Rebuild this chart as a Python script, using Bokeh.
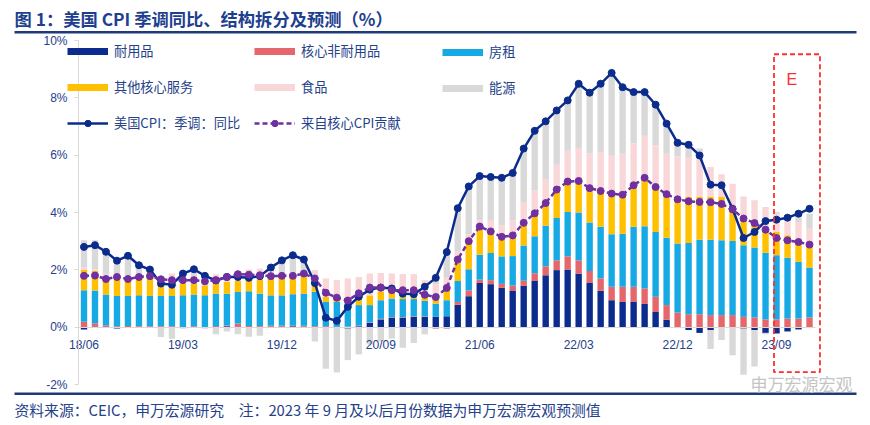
import numpy as np
import pandas as pd
from bokeh.plotting import figure
from bokeh.models import Range1d, FixedTicker, Label, Legend, LegendItem, BoxAnnotation
from bokeh.embed import file_html
from bokeh.resources import INLINE

# ---------------- data ----------------
months = [p.strftime("%y/%m") for p in pd.period_range("2018-06", "2023-12", freq="M")]
tick_labels = ["18/06", "19/03", "19/12", "20/09", "21/06", "22/03", "22/12", "23/09"]
forecast_start = "23/09"

durable = [
    -0.08, 0.02, 0.02, -0.05, 0.01, 0.01, 0.01,
    0.01, 0.01, 0.01, 0.01, 0.01, 0.02, 0.03, 0.02, 0.01, 0.01, 0.01, 0.02,
    0.03, 0.02, 0.02, 0.02, 0.02, -0.05, 0.03, 0.15, 0.27, 0.33, 0.33, 0.36,
    0.36, 0.36, 0.38, 0.78, 1.08, 1.54, 1.50, 1.37, 1.28, 1.44, 1.61, 1.81,
    1.99, 2.01, 1.87, 1.54, 1.27, 0.94, 0.88, 0.88, 0.81, 0.53, 0.26, 0.00,
    -0.10, -0.20, -0.10, 0.00, 0.00, -0.05, -0.10, -0.20, -0.22, -0.15, -0.08, -0.02,
]
nondurable = [
    0.19, 0.12, 0.05, 0.03, 0.03, 0.02, 0.02,
    0.02, 0.02, -0.04, 0.02, -0.04, 0.02, 0.03, 0.11, 0.03, 0.03, 0.04, 0.03,
    0.02, 0.03, 0.02, 0.02, -0.03, 0.02, 0.02, 0.02, 0.02, 0.02, 0.02, 0.02,
    0.02, -0.05, -0.05, 0.10, 0.20, 0.12, 0.14, 0.14, 0.17, 0.18, 0.27, 0.31,
    0.34, 0.46, 0.46, 0.42, 0.43, 0.47, 0.53, 0.53, 0.54, 0.53, 0.51, 0.51,
    0.45, 0.45, 0.42, 0.42, 0.42, 0.36, 0.34, 0.27, 0.27, 0.30, 0.30, 0.34,
]
rent = [
    1.10, 1.14, 1.07, 1.06, 1.05, 1.08, 1.06,
    1.06, 1.06, 1.10, 1.11, 1.10, 1.13, 1.11, 1.10, 1.21, 1.13, 1.06, 1.06,
    1.10, 1.12, 1.19, 0.84, 0.86, 0.86, 0.72, 0.60, 0.65, 0.65, 0.63, 0.60,
    0.54, 0.46, 0.56, 0.73, 0.74, 0.87, 0.95, 0.96, 1.03, 1.23, 1.29, 1.42,
    1.48, 1.55, 1.67, 1.69, 1.80, 1.83, 1.85, 2.09, 2.17, 2.26, 2.35, 2.41,
    2.49, 2.60, 2.63, 2.61, 2.59, 2.50, 2.44, 2.33, 2.24, 2.12, 1.98, 1.74,
]
other_core = [
    0.70, 0.68, 0.61, 0.66, 0.61, 0.64, 0.66,
    0.37, 0.37, 0.41, 0.38, 0.35, 0.41, 0.41, 0.38, 0.36, 0.49, 0.67, 0.67,
    0.60, 0.64, 0.23, 0.18, 0.20, 0.12, 0.17, 0.34, 0.31, 0.29, 0.27, 0.31,
    0.23, 0.14, 0.35, 0.70, 0.92, 0.87, 0.67, 0.58, 0.62, 0.80, 0.79, 0.77,
    0.91, 1.06, 1.05, 1.13, 1.22, 1.34, 1.30, 1.36, 1.63, 1.54, 1.48, 1.58,
    1.60, 1.49, 1.49, 1.51, 1.16, 0.93, 0.89, 0.78, 0.81, 0.79, 0.77, 0.80,
]
food = [
    0.08, 0.06, 0.08, 0.08, 0.08, 0.12, 0.10,
    0.32, 0.41, 0.20, 0.18, 0.15, 0.27, 0.29, 0.35, 0.40, 0.38, 0.15, 0.15,
    0.15, 0.15, 0.53, 0.64, 0.56, 0.70, 0.81, 0.76, 0.64, 0.58, 0.60, 0.56,
    0.49, 0.54, 0.46, 0.32, 0.30, 0.33, 0.45, 0.50, 0.62, 0.72, 0.82, 0.86,
    0.95, 1.07, 1.20, 1.29, 1.38, 1.43, 1.49, 1.55, 1.53, 1.49, 1.45, 1.45,
    1.40, 1.30, 1.05, 0.79, 0.83, 0.77, 0.76, 0.81, 0.64, 0.58, 0.62, 0.55,
]
energy = [
    0.96, 1.01, 0.72, 0.45, 0.75, 0.25, 0.14,
    -0.34, -0.40, 0.15, 0.32, 0.18, -0.25, -0.15, -0.25, -0.33, -0.30, 0.18, 0.40,
    0.62, 0.40, -0.50, -1.45, -1.55, -1.10, -0.95, -0.60, -0.50, -0.40, -0.72, -0.55,
    -0.25, 0.20, 0.87, 1.52, 1.65, 1.55, 1.54, 1.65, 1.66, 1.86, 2.07, 2.01,
    1.89, 1.76, 2.24, 2.11, 2.39, 2.86, 2.32, 1.79, 1.52, 1.41, 1.05, 0.48,
    0.55, 0.39, -0.66, -0.45, -0.98, -1.61, -1.27, -0.05, 0.06, 0.11, 0.35, 0.53,
]
cpi_yoy = [
    2.80, 2.86, 2.63, 2.32, 2.49, 2.16, 2.01,
    1.52, 1.48, 1.87, 2.02, 1.79, 1.63, 1.75, 1.75, 1.72, 1.78, 2.08, 2.33,
    2.51, 2.36, 1.54, 0.33, 0.22, 0.71, 1.06, 1.31, 1.38, 1.35, 1.17, 1.15,
    1.41, 1.72, 2.62, 4.15, 4.91, 5.27, 5.24, 5.21, 5.38, 6.23, 6.85, 7.18,
    7.56, 7.91, 8.49, 8.18, 8.49, 8.87, 8.37, 8.20, 8.20, 7.76, 7.10, 6.43,
    6.36, 5.99, 4.97, 4.95, 4.13, 3.11, 3.32, 3.70, 3.75, 3.82, 3.96, 4.13,
]
core_contrib = [
    1.79, 1.80, 1.68, 1.75, 1.68, 1.75, 1.78,
    1.67, 1.64, 1.64, 1.64, 1.60, 1.64, 1.75, 1.85, 1.83, 1.81, 1.78, 1.79,
    1.79, 1.87, 1.70, 1.20, 1.03, 0.93, 1.18, 1.38, 1.38, 1.29, 1.29, 1.29,
    1.13, 1.05, 1.37, 2.36, 3.00, 3.51, 3.34, 3.15, 3.20, 3.64, 3.97, 4.33,
    4.80, 5.08, 5.10, 4.85, 4.75, 4.66, 4.62, 4.95, 5.21, 4.89, 4.64, 4.46,
    4.39, 4.37, 4.36, 4.30, 4.11, 3.79, 3.63, 3.40, 3.11, 3.03, 2.97, 2.88,
]

names = ["耐用品", "核心非耐用品", "房租", "其他核心服务", "食品", "能源"]
colors = ["#0B2C8C", "#E5676B", "#17A9E4", "#FFC000", "#F9D6D8", "#D9D9D9"]
line_names = ["美国CPI：季调：同比", "来自核心CPI贡献"]
y_ticks = [-2, 0, 2, 4, 6, 8, 10]
title_text = "图 1：美国 CPI 季调同比、结构拆分及预测（%）"
source_text = "资料来源：CEIC，申万宏源研究\u3000注：2023 年 9 月及以后月份数据为申万宏源宏观预测值"

NAVY = "#0B2C8C"
PURPLE = "#7030A0"
TEXT = "#24418A"
TITLE_C = "#1E3F8E"
RULE_C = "#1F3A7A"
RED = "#FF2E2E"
FONT = "Noto Sans CJK SC"
NUMFONT = "Liberation Sans"

# ---------------- geometry (one canvas, frame = whole canvas) ----------------
W, H = 870, 425
n = len(months)
AX_LEFT, AX_TOP, AX_BOTTOM = 78, 40, 384      # px of the y axis line, 10% and -2%
PLOT_W = 742                                   # px for x from -0.5 to n
ppx = PLOT_W / (n + 0.5)
ppy = (AX_BOTTOM - AX_TOP) / (y_ticks[-1] - y_ticks[0])
x0 = -0.5 - AX_LEFT / ppx
y1 = y_ticks[-1] + AX_TOP / ppy

p = figure(width=W, height=H, x_range=Range1d(x0, x0 + W / ppx),
           y_range=Range1d(y1 - H / ppy, y1), toolbar_location=None,
           output_backend="svg", min_border=0, outline_line_color=None, title=None)
p.grid.visible = False

x = np.arange(n)
pos = np.zeros(n)
neg = np.zeros(n)
for vals, c in zip([durable, nondurable, rent, other_core, food, energy], colors):
    v = np.asarray(vals, dtype=float)
    bottom = np.where(v >= 0, pos, neg)
    topv = bottom + v
    pos = np.where(v >= 0, topv, pos)
    neg = np.where(v < 0, topv, neg)
    p.vbar(x=x, bottom=bottom, top=topv, width=0.58, fill_color=c, line_color=None)

cpi_l = p.line(x, cpi_yoy, line_color=NAVY, line_width=2.5)
cpi_s = p.scatter(x, cpi_yoy, size=7, marker="circle", fill_color=NAVY, line_color=NAVY)
core_l = p.line(x, core_contrib, line_color=PURPLE, line_width=2.5, line_dash="5 3")
core_s = p.scatter(x, core_contrib, size=7, marker="circle", fill_color=PURPLE, line_color=PURPLE)

# axes drawn inside the canvas at fixed positions
p.xaxis.fixed_location = 0
p.xaxis.bounds = (-0.5, n - 0.5)
p.xaxis.ticker = FixedTicker(ticks=[months.index(t) for t in tick_labels])
p.xaxis.major_label_overrides = {months.index(t): t for t in tick_labels}
p.xaxis.axis_line_color = "#D9D9D9"
p.xaxis.major_tick_line_color = None
p.xaxis.minor_tick_line_color = None
p.xaxis.major_label_standoff = 5
p.yaxis.fixed_location = -0.5
p.yaxis.bounds = (y_ticks[0], y_ticks[-1])
p.yaxis.ticker = FixedTicker(ticks=y_ticks)
p.yaxis.major_label_overrides = {v: f"{v}%" for v in y_ticks}
p.yaxis.axis_line_color = "#D9D9D9"
p.yaxis.major_tick_line_color = "#D9D9D9"
p.yaxis.major_tick_out = 4
p.yaxis.major_tick_in = 0
p.yaxis.minor_tick_line_color = None
p.yaxis.major_label_standoff = 7
for ax in (p.xaxis, p.yaxis):
    ax.major_label_text_font = NUMFONT
    ax.major_label_text_font_size = "12px"
    ax.major_label_text_color = TEXT

# legend (bar swatches via thick-line proxies holding one empty point)
proxies = [p.line([0], [np.nan], line_width=7, line_color=c) for c in colors]

def make_legend(items, loc):
    lg = Legend(items=items, location=loc, orientation="vertical", glyph_width=41,
                glyph_height=16, label_height=16, spacing=17, padding=0, margin=0,
                label_standoff=6, border_line_color=None, background_fill_alpha=0,
                label_text_font=FONT, label_text_font_size="13.2px", label_text_color=TEXT)
    p.add_layout(lg)

make_legend([LegendItem(label=names[0], renderers=[proxies[0]]),
             LegendItem(label=names[3], renderers=[proxies[3]]),
             LegendItem(label=line_names[0], renderers=[cpi_l, cpi_s])], (67, 293))
make_legend([LegendItem(label=names[1], renderers=[proxies[1]]),
             LegendItem(label=names[4], renderers=[proxies[4]]),
             LegendItem(label=line_names[1], renderers=[core_l, core_s])], (254, 293))
make_legend([LegendItem(label=names[2], renderers=[proxies[2]]),
             LegendItem(label=names[5], renderers=[proxies[5]])], (442, 328))

# forecast box
fs = months.index(forecast_start)
p.add_layout(BoxAnnotation(left=fs - 0.23, right=n - 0.05, bottom=-1.57, top=9.52,
                           fill_alpha=0, line_color=RED, line_alpha=1, line_width=1.8,
                           line_dash="5 3"))
p.add_layout(Label(x=fs + 1.4, y=8.64, text="E", text_color=RED, text_font=NUMFONT,
                   text_font_size="16px", text_align="center", text_baseline="middle"))

# title, rules, source, watermark (screen units: from canvas left / canvas bottom)
p.add_layout(Label(x=14, y=H - 18, x_units="screen", y_units="screen", text=title_text,
                   text_font=FONT, text_font_style="bold", text_font_size="17.3px",
                   text_color=TITLE_C, text_baseline="middle"))
p.add_layout(BoxAnnotation(left=14, right=856, top=H - 30.5, bottom=H - 33,
                           left_units="screen", right_units="screen", top_units="screen",
                           bottom_units="screen", fill_color=RULE_C, fill_alpha=1,
                           line_color=None))
p.add_layout(BoxAnnotation(left=14, right=856, top=H - 392, bottom=H - 394.5,
                           left_units="screen", right_units="screen", top_units="screen",
                           bottom_units="screen", fill_color=RULE_C, fill_alpha=1,
                           line_color=None))
p.add_layout(Label(x=14, y=H - 409, x_units="screen", y_units="screen", text=source_text,
                   text_font=FONT, text_font_size="14.8px", text_color=TEXT,
                   text_baseline="middle"))
p.add_layout(Label(x=750, y=H - 383, x_units="screen", y_units="screen", text="申万宏源宏观",
                   text_font=FONT, text_font_size="17px", text_color="#C4C4C4",
                   text_baseline="middle"))

open("out.html", "w").write(file_html(p, INLINE))
